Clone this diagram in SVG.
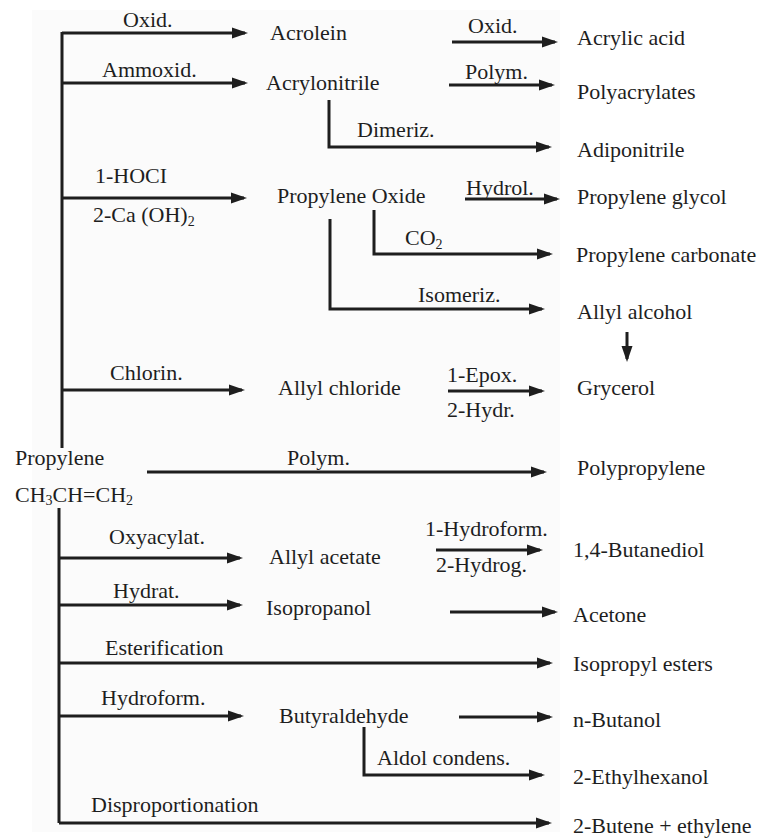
<svg xmlns="http://www.w3.org/2000/svg" width="761" height="840" viewBox="0 0 761 840">
<style>
text{font-family:"Liberation Serif","Times New Roman",serif;font-size:22px;fill:#1e1e1e}
.l{fill:none;stroke:#1e1e1e;stroke-width:3}
.a{marker-end:url(#ah)}
</style>
<defs>
<marker id="ah" markerUnits="userSpaceOnUse" markerWidth="16" markerHeight="12" refX="13" refY="6" orient="auto">
<path d="M0,0.5 L16,6 L0,11.5 z" fill="#1e1e1e"/>
</marker>
</defs>
<rect width="761" height="840" fill="#ffffff"/>
<rect x="32" y="10" width="528" height="822" fill="#fbfbfb"/>
<g id="connectors">
<path class="l" d="M62,32 V448"/>
<path class="l" d="M59,508 V823"/>
<path class="l a" d="M62,33 H245"/>
<path class="l a" d="M62,83 H245"/>
<path class="l a" d="M62,198 H244"/>
<path class="l a" d="M62,390 H242"/>
<path class="l a" d="M452,42 H555"/>
<path class="l a" d="M449,85 H552"/>
<path class="l a" d="M329,100 V147 H549"/>
<path class="l a" d="M465,199 H557"/>
<path class="l a" d="M374,210 V254 H550"/>
<path class="l a" d="M330,219 V309 H542"/>
<path class="l a" d="M627,332 V359"/>
<path class="l a" d="M448,391 H542"/>
<path class="l a" d="M147,472 H544"/>
<path class="l a" d="M59,558 H240"/>
<path class="l a" d="M436,550 H540"/>
<path class="l a" d="M59,605 H240"/>
<path class="l a" d="M450,612 H555"/>
<path class="l a" d="M59,663 H550"/>
<path class="l a" d="M59,716 H241"/>
<path class="l a" d="M459,717 H550"/>
<path class="l a" d="M364,727 V775 H542"/>
<path class="l a" d="M59,823 H549"/>
</g>
<g id="labels">
<text x="123" y="27">Oxid.</text>
<text x="102" y="77">Ammoxid.</text>
<text x="95" y="183">1-HOCI</text>
<text x="93" y="222">2-Ca (OH)<tspan font-size="14" dy="4">2</tspan></text>
<text x="110" y="380">Chlorin.</text>
<text x="468" y="33">Oxid.</text>
<text x="465" y="79">Polym.</text>
<text x="357" y="137">Dimeriz.</text>
<text x="466" y="195">Hydrol.</text>
<text x="405" y="245">CO<tspan font-size="14" dy="4">2</tspan></text>
<text x="418" y="302">Isomeriz.</text>
<text x="447" y="382">1-Epox.</text>
<text x="447" y="417">2-Hydr.</text>
<text x="287" y="465">Polym.</text>
<text x="109" y="544">Oxyacylat.</text>
<text x="425" y="536">1-Hydroform.</text>
<text x="436" y="572">2-Hydrog.</text>
<text x="113" y="598">Hydrat.</text>
<text x="105" y="655">Esterification</text>
<text x="101" y="705">Hydroform.</text>
<text x="377" y="765">Aldol condens.</text>
<text x="91" y="812">Disproportionation</text>
</g>
<g id="n-propylene"><text x="15" y="465">Propylene</text><text x="15" y="502">CH<tspan font-size="14" dy="3">3</tspan><tspan dy="-3">CH=CH</tspan><tspan font-size="14" dy="3">2</tspan></text></g>
<g id="n-acrolein"><text x="270" y="40">Acrolein</text></g>
<g id="n-acrylonitrile"><text x="266" y="90">Acrylonitrile</text></g>
<g id="n-propylene-oxide"><text x="277" y="203">Propylene Oxide</text></g>
<g id="n-allyl-chloride"><text x="278" y="395">Allyl chloride</text></g>
<g id="n-acrylic-acid"><text x="577" y="45">Acrylic acid</text></g>
<g id="n-polyacrylates"><text x="577" y="99">Polyacrylates</text></g>
<g id="n-adiponitrile"><text x="577" y="157">Adiponitrile</text></g>
<g id="n-propylene-glycol"><text x="577" y="204">Propylene glycol</text></g>
<g id="n-propylene-carbonate"><text x="576" y="262">Propylene carbonate</text></g>
<g id="n-allyl-alcohol"><text x="577" y="319">Allyl alcohol</text></g>
<g id="n-grycerol"><text x="577" y="395">Grycerol</text></g>
<g id="n-polypropylene"><text x="577" y="475">Polypropylene</text></g>
<g id="n-allyl-acetate"><text x="269" y="564">Allyl acetate</text></g>
<g id="n-isopropanol"><text x="266" y="615">Isopropanol</text></g>
<g id="n-butyraldehyde"><text x="279" y="723">Butyraldehyde</text></g>
<g id="n-butanediol"><text x="573" y="557">1,4-Butanediol</text></g>
<g id="n-acetone"><text x="573" y="622">Acetone</text></g>
<g id="n-isopropyl-esters"><text x="573" y="671">Isopropyl esters</text></g>
<g id="n-n-butanol"><text x="573" y="727">n-Butanol</text></g>
<g id="n-ethylhexanol"><text x="573" y="784">2-Ethylhexanol</text></g>
<g id="n-butene"><text x="573" y="833">2-Butene + ethylene</text></g>
</svg>
